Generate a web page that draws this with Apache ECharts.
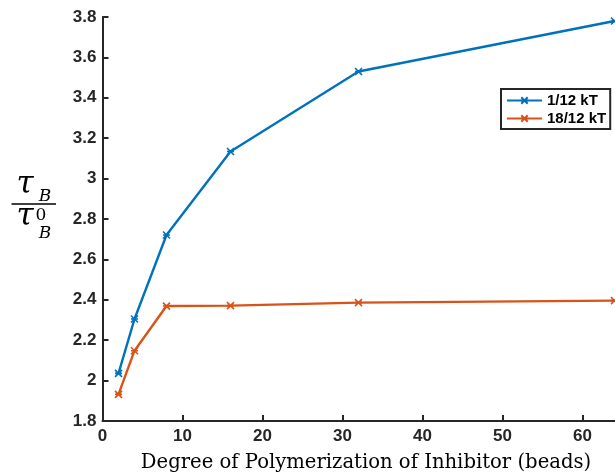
<!DOCTYPE html>
<html>
<head>
<meta charset="utf-8">
<script src="https://cdn.jsdelivr.net/npm/echarts@6/dist/echarts.min.js"></script>
<style>
  html, body { margin: 0; padding: 0; background: #fff; }
  #chart { width: 615px; height: 473px; }
</style>
</head>
<body>
<div id="chart"></div>
<script>
// Degree of polymerization (beads) sampled along the x axis
const beads = [2, 4, 8, 16, 32, 64];
// Normalised time tau_B / tau_B^0 for two interaction strengths
const ratioLow = [2.036, 2.305, 2.721, 3.134, 3.530, 3.780];   // 1/12 kT
const ratioHigh = [1.932, 2.148, 2.369, 2.371, 2.386, 2.396];  // 18/12 kT
const seriesNames = ['1/12 kT', '18/12 kT'];
const xTicks = [0, 10, 20, 30, 40, 50, 60];

const AXIS = '#262626';
const BLUE = '#0072BD';
const ORANGE = '#D95319';
// asterisk-like marker drawn as strokes
const STAR = 'path://M-1,-1L1,1M1,-1L-1,1M-1,0L1,0';

function pairs(xs, ys) { return xs.map((x, i) => [x, ys[i]]); }

const chart = echarts.init(document.getElementById('chart'), null, { renderer: 'canvas' });

const serif = '"DejaVu Serif", "Liberation Serif", serif';
const sans = '"Liberation Sans", Arial, sans-serif';

chart.setOption({
  animation: false,
  backgroundColor: '#fff',
  grid: { left: 102.5, right: 0.5, top: 17, bottom: 52, containLabel: false },
  xAxis: {
    type: 'value', min: 0, max: 64,
    axisLine: { lineStyle: { color: AXIS, width: 2 } },
    axisTick: { inside: true, length: 6, customValues: xTicks, lineStyle: { color: AXIS, width: 2 } },
    axisLabel: { customValues: xTicks, color: AXIS, fontFamily: sans,
      fontWeight: 'bold', fontSize: 17, margin: 7 },
    splitLine: { show: false }
  },
  yAxis: {
    type: 'value', min: 1.8, max: 3.8, interval: 0.2,
    axisLine: { show: true, lineStyle: { color: AXIS, width: 2 } },
    axisTick: { show: true, inside: true, length: 6, lineStyle: { color: AXIS, width: 2 } },
    axisLabel: { color: AXIS, fontFamily: sans,
      fontWeight: 'bold', fontSize: 17, margin: 6,
      formatter: v => String(Math.round(v * 10) / 10) },
    splitLine: { show: false }
  },
  legend: {
    orient: 'vertical', left: 501, top: 89,
    padding: [4, 4, 3, 5], itemGap: 3, itemWidth: 35, itemHeight: 8,
    borderColor: AXIS, borderWidth: 2, backgroundColor: '#fff',
    textStyle: { color: '#000', fontFamily: sans, fontWeight: 'bold', fontSize: 15 },
    data: seriesNames
  },
  series: [
    {
      name: seriesNames[0], type: 'line', data: pairs(beads, ratioLow),
      symbol: STAR, symbolSize: 7, showAllSymbol: true,
      lineStyle: { color: BLUE, width: 2.4 },
      itemStyle: { color: BLUE, borderColor: BLUE, borderWidth: 1.6 }
    },
    {
      name: seriesNames[1], type: 'line', data: pairs(beads, ratioHigh),
      symbol: STAR, symbolSize: 7, showAllSymbol: true,
      lineStyle: { color: ORANGE, width: 2.4 },
      itemStyle: { color: ORANGE, borderColor: ORANGE, borderWidth: 1.6 }
    }
  ],
  graphic: [
    // x axis title
    { type: 'text', style: { text: 'Degree of Polymerization of Inhibitor (beads)',
        font: '19.6px ' + serif, fill: '#000', x: 366, y: 463, textAlign: 'center', textVerticalAlign: 'middle' } },
    // y axis title: tau_B over tau_B^0
    { type: 'text', style: { text: 'τ', font: 'italic 31px ' + serif, fill: '#000', x: 25, y: 185, textAlign: 'center', textVerticalAlign: 'middle' } },
    { type: 'text', style: { text: 'B', font: 'italic 17px ' + serif, fill: '#000', x: 45, y: 197, textAlign: 'center', textVerticalAlign: 'middle' } },
    { type: 'line', shape: { x1: 11.5, y1: 204, x2: 56, y2: 204 }, style: { stroke: '#000', lineWidth: 1.3 } },
    { type: 'text', style: { text: 'τ', font: 'italic 31px ' + serif, fill: '#000', x: 25, y: 217, textAlign: 'center', textVerticalAlign: 'middle' } },
    { type: 'text', style: { text: '0', font: '17px ' + serif, fill: '#000', x: 41, y: 216, textAlign: 'center', textVerticalAlign: 'middle' } },
    { type: 'text', style: { text: 'B', font: 'italic 17px ' + serif, fill: '#000', x: 45, y: 234, textAlign: 'center', textVerticalAlign: 'middle' } }
  ]
});
</script>
</body>
</html>
